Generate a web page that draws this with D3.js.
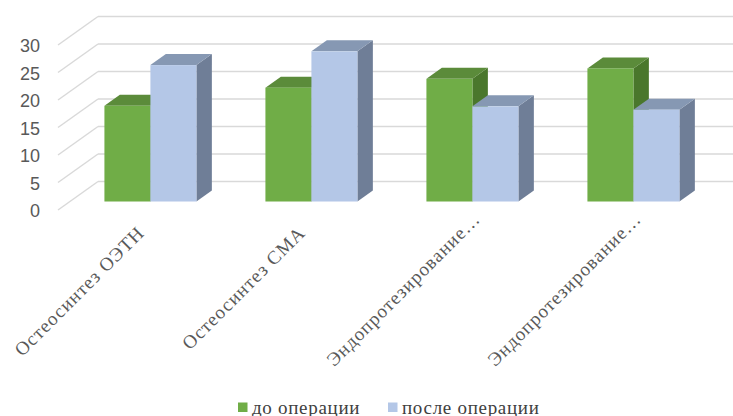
<!DOCTYPE html>
<html><head><meta charset="utf-8">
<script src="https://cdn.jsdelivr.net/npm/d3@7"></script>
<style>html,body{margin:0;padding:0;background:#fff;}svg{display:block;}</style>
</head><body>
<svg id="chart" width="733" height="416"></svg>
<script>
const categories = ["Остеосинтез ОЭТН", "Остеосинтез СМА", "Эндопротезирование…", "Эндопротезирование…"];
const seriesNames = ["до операции", "после операции"];
const beforeValues = [17.4, 20.7, 22.3, 24.2];
const afterValues = [24.8, 27.3, 17.3, 16.7];
const yTicks = [0, 5, 10, 15, 20, 25, 30];

const colors = {
  front: ["#70AD47", "#B4C7E7"],
  top: ["#5B8B3A", "#8698B3"],
  side: ["#4A772C", "#6F7E97"]
};

const svg = d3.select("#chart");
const depthDX = 40, depthDY = -28.5;
const frontLeft = 58, frontRight = 702;
const zFront = 0.298, zBack = 0.684;

const x0 = d3.scaleBand().domain(categories.map((d, i) => i)).range([frontLeft, frontRight])
  .paddingInner(0.4286).paddingOuter(0.2143);
const x1 = d3.scaleBand().domain([0, 1]).range([0, x0.bandwidth()]);
const y = d3.scaleLinear().domain([0, 30]).range([210, 45]);

const grid = svg.append("g");
yTicks.forEach(v => {
  grid.append("line")
    .attr("x1", frontLeft).attr("y1", y(v))
    .attr("x2", frontLeft + depthDX).attr("y2", y(v) + depthDY)
    .attr("stroke", "#d9d9d9").attr("stroke-width", 1.5);
  grid.append("line")
    .attr("x1", frontLeft + depthDX).attr("y1", y(v) + depthDY)
    .attr("x2", frontRight + depthDX).attr("y2", y(v) + depthDY)
    .attr("stroke", "#d9d9d9").attr("stroke-width", 1.5);
});

const yAxis = d3.axisLeft(y).tickValues(yTicks).tickSize(0).tickPadding(0);
const ya = svg.append("g").attr("transform", "translate(40,1)").call(yAxis);
ya.select(".domain").remove();
ya.selectAll("text").attr("font-family", "Liberation Sans, Arial, sans-serif")
  .attr("font-size", 18).attr("fill", "#595959");

const bars = svg.append("g");
const dzx = (zBack - zFront) * depthDX, dzy = (zBack - zFront) * depthDY;
categories.forEach((c, i) => {
  [beforeValues[i], afterValues[i]].forEach((v, s) => {
    const xs = x0(i) + x1(s) + zFront * depthDX;
    const w = x1.bandwidth();
    const yb = y(0) + zFront * depthDY;
    const yt = y(v) + zFront * depthDY;
    const g = bars.append("g");
    g.append("path").attr("d", `M${xs + w},${yt}L${xs + w + dzx},${yt + dzy}L${xs + w + dzx},${yb + dzy}L${xs + w},${yb}Z`)
      .attr("fill", colors.side[s]);
    g.append("path").attr("d", `M${xs},${yt}L${xs + dzx},${yt + dzy}L${xs + w + dzx},${yt + dzy}L${xs + w},${yt}Z`)
      .attr("fill", colors.top[s]);
    g.append("rect").attr("x", xs).attr("y", yt).attr("width", w).attr("height", yb - yt)
      .attr("fill", colors.front[s]);
  });
});

const labels = svg.append("g");
categories.forEach((c, i) => {
  const shift = c.endsWith("…") ? 14 : 0;
  const cx = x0(i) + x0.bandwidth() / 2 + 7 + shift;
  const cy = y(0) + 24 - shift;
  labels.append("text")
    .attr("transform", `translate(${cx},${cy}) rotate(-45)`)
    .attr("text-anchor", "end")
    .attr("font-family", "Liberation Serif, Times New Roman, serif")
    .attr("font-size", 19).attr("letter-spacing", 1).attr("fill", "#595959")
    .text(c);
});

const legend = svg.append("g");
const legendX = [238, 388];
seriesNames.forEach((n, s) => {
  legend.append("rect").attr("x", legendX[s]).attr("y", 402.5).attr("width", 9.5).attr("height", 9.5)
    .attr("fill", colors.front[s]);
  legend.append("text").attr("x", legendX[s] + 14).attr("y", 413.5)
    .attr("font-family", "Liberation Serif, Times New Roman, serif")
    .attr("font-size", 19).attr("letter-spacing", 0.7).attr("fill", "#404040").text(n);
});
</script>
</body></html>
